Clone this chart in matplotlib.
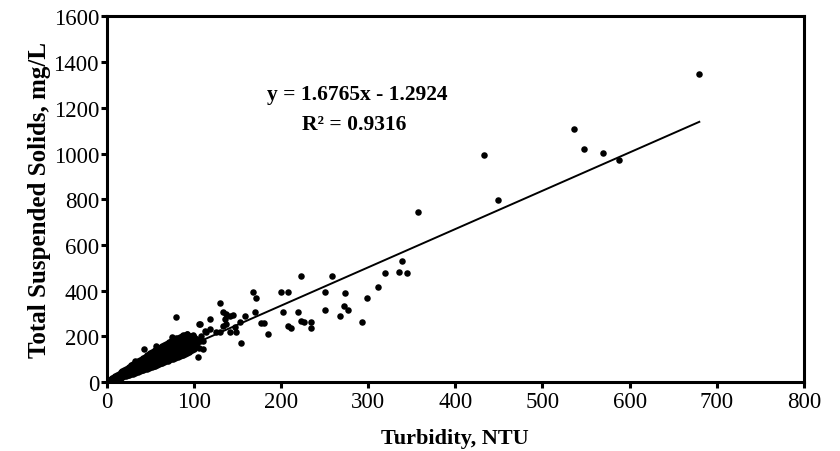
import matplotlib
matplotlib.use("Agg")
import matplotlib.pyplot as plt

# ---- data ----
# dense cluster, turbidity 0-110 NTU (lower, middle and upper part of the band)
cluster_ntu = [1, 2, 2, 4, 4, 6, 6, 6, 8, 8, 8, 10, 10, 10, 12, 12, 12,
               14, 14, 14, 16, 16, 16, 18, 18, 18, 20, 20, 20, 22, 22, 22,
               24, 24, 24, 26, 26, 26, 28, 28, 28, 30, 30, 30, 32, 32, 32,
               34, 34, 34, 36, 36, 36, 38, 38, 38, 40, 40, 40, 42, 42, 42,
               44, 44, 44, 46, 46, 46, 48, 48, 48, 50, 50, 50, 52, 52, 52,
               54, 54, 54, 56, 56, 56, 58, 58, 58, 60, 60, 60, 62, 62, 62,
               64, 64, 64, 66, 66, 66, 68, 68, 68, 70, 70, 70, 72, 72, 72,
               74, 74, 74, 76, 76, 76, 78, 78, 78, 80, 80, 80, 82, 82, 82,
               84, 84, 84, 86, 86, 86, 88, 88, 88, 90, 90, 90, 92, 92, 92,
               94, 94, 96, 96, 98, 98, 100, 100, 102, 104, 106, 108, 110,
               92, 100, 105.7, 33, 57, 75]
cluster_tss = [2, 3, 5, 5, 9, 7, 12, 16, 9, 15, 21, 11, 18, 27, 14, 22, 31,
               16, 27, 36, 19, 30, 42, 21, 35, 46, 24, 38, 53, 27, 43, 57,
               29, 46, 63, 32, 51, 67, 35, 54, 73, 37, 57, 78, 40, 63, 82,
               43, 66, 88, 45, 71, 92, 48, 74, 98, 51, 77, 102, 53, 83, 107,
               56, 86, 111, 59, 91, 117, 61, 94, 121, 64, 97, 127, 67, 103, 131,
               70, 106, 136, 72, 111, 140, 75, 114, 146, 78, 117, 150, 81, 123, 154,
               84, 126, 159, 87, 131, 162, 90, 134, 167, 93, 137, 170, 96, 143, 175,
               99, 146, 178, 102, 151, 183, 105, 154, 186, 108, 157, 191, 111, 161, 194,
               114, 164, 197, 117, 169, 201, 120, 172, 204, 124, 177, 207, 128, 180, 210,
               132, 184, 136, 189, 140, 192, 144, 197, 190, 170, 150, 200, 180,
               210, 188, 253, 93, 159, 195]

# more cluster points lying between the rows above
cluster2_ntu = [3, 3, 5, 5, 7, 7, 9, 9, 11, 11, 13, 13, 15, 15, 17, 17, 19, 19,
                21, 21, 23, 23, 25, 25, 27, 27, 29, 29, 31, 31, 33, 33, 35, 35,
                37, 37, 39, 39, 41, 41, 43, 43, 45, 45, 47, 47, 49, 49, 51, 51,
                53, 53, 55, 55, 57, 57, 59, 59, 61, 61, 63, 63, 65, 65, 67, 67,
                69, 69, 71, 71, 73, 73, 75, 75, 77, 77, 79, 79, 81, 81, 83, 83,
                85, 85, 87, 87, 89, 89, 91, 91, 93, 93, 95, 95, 97, 97, 99, 99]
cluster2_tss = [5, 9, 7, 12, 11, 16, 13, 20, 15, 23, 18, 27, 22, 32, 25, 37, 28, 41,
                31, 46, 35, 51, 38, 55, 42, 60, 45, 65, 48, 69, 51, 74, 55, 78,
                58, 83, 62, 87, 65, 92, 68, 96, 72, 101, 75, 105, 79, 110, 82, 114,
                86, 119, 89, 123, 93, 127, 96, 132, 100, 136, 103, 140, 107, 144, 110, 148,
                113, 152, 117, 156, 120, 160, 124, 164, 128, 168, 131, 172, 134, 176, 138, 180,
                141, 183, 144, 186, 148, 190, 152, 194, 156, 197, 160, 200, 164, 203, 168, 206]

# scattered points above ~40 NTU
spread_ntu = [42.7, 79.4, 104.6, 95.4, 99, 103, 103, 107, 110.7, 106.9,
              112.6, 114.5, 118, 119, 126, 129.8, 129.8, 133.6, 137.4, 141,
              145, 135.5, 133.6, 137.4, 147, 148.6, 141, 152.7, 154, 158.4,
              167.6, 171.8, 170, 177.5, 181, 185, 199.7, 202, 208.5, 208,
              212, 219, 222.5, 223, 226.8, 235, 235, 250.9, 251, 258.4,
              268, 271.8, 274, 276.5, 292.4, 299, 311, 319.5, 335, 339,
              345, 357, 432.5, 448.6, 536.5, 548, 569.6, 588, 680]
spread_tss = [144, 285, 108, 174, 202, 188, 159, 181, 144, 253,
              224, 217, 232, 275, 217, 217, 345, 307, 297, 290,
              293, 275, 246, 253, 239, 217, 217, 261, 169, 290,
              396, 367, 307, 256, 258, 210, 392, 307, 392, 246,
              237, 305, 265, 462, 264, 264, 237, 396, 316, 466,
              290, 331, 389, 313, 261, 366, 414, 478, 480, 530,
              475, 745, 992, 797, 1109, 1019, 1001, 970, 1346]

# linear trend line shown in the chart
slope = 1.6765
intercept = -1.2924
line_ntu = [0, 680]

x_ticks = [0, 100, 200, 300, 400, 500, 600, 700, 800]
y_ticks = [0, 200, 400, 600, 800, 1000, 1200, 1400, 1600]

# ---- figure ----
serif = ["Liberation Serif", "DejaVu Serif"]
plt.rcParams["font.family"] = serif

fig = plt.figure(figsize=(8.4, 4.52), dpi=100)
ax = fig.add_axes([0.127, 0.1527, 0.83, 0.8087])

for xs, ys in ((cluster_ntu, cluster_tss), (cluster2_ntu, cluster2_tss),
               (spread_ntu, spread_tss)):
    ax.scatter(xs, ys, s=22, color="black", linewidths=0, zorder=3)
line_tss = [slope * v + intercept for v in line_ntu]
ax.plot(line_ntu, line_tss, color="black", linewidth=1.4, zorder=2)

ax.set_xlim(0, 800)
ax.set_ylim(0, 1600)
ax.set_xticks(x_ticks)
ax.set_yticks(y_ticks)
ax.set_xticklabels([str(v) for v in x_ticks])
ax.set_yticklabels([str(v) for v in y_ticks])

for sp in ax.spines.values():
    sp.set_linewidth(2.2)
    sp.set_color("black")

ax.tick_params(axis="both", direction="out", length=4.5, width=2.2,
               labelsize=16.5, colors="black", top=False, right=False)
ax.tick_params(axis="y", pad=1)
ax.tick_params(axis="x", pad=2)

xl = ax.set_xlabel("Turbidity, NTU", fontsize=16, fontweight="bold")
ax.xaxis.set_label_coords(0.5, -0.152)
xl.set_va("center")
yl = ax.set_ylabel("Total Suspended Solids, mg/L", fontsize=18, fontweight="bold")
ax.yaxis.set_label_coords(-0.0957, 0.5)
yl.set_va("center")

ax.text(0.36, 0.788, "y = 1.6765x - 1.2924", transform=ax.transAxes,
        ha="center", va="center", fontsize=15.5, fontweight="bold")
ax.text(0.355, 0.706, "R\u00b2 = 0.9316", transform=ax.transAxes,
        ha="center", va="center", fontsize=15.5, fontweight="bold")

fig.savefig("out.png", dpi=100)
